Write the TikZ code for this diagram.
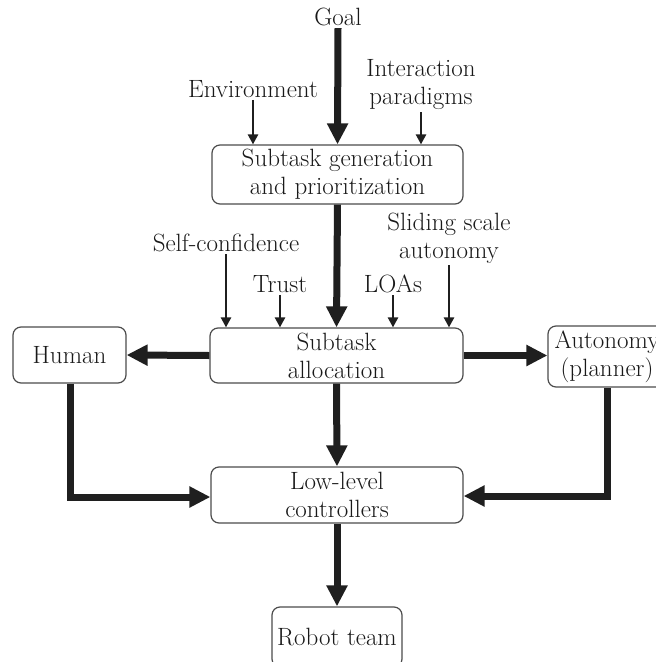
\documentclass[tikz,border=0pt]{standalone}
\usetikzlibrary{arrows.meta}
\begin{document}
\begin{tikzpicture}[x=1pt,y=-1pt,
  every node/.style={font=\fontsize{25}{28}\selectfont, align=center, text=black!90},
  box/.style={draw=black!70, line width=1.2pt, rounded corners=8pt, inner sep=0pt},
  lbl/.style={inner sep=2pt},
  thickarr/.style={line width=7pt, -{Triangle[length=21pt,width=20pt]}, black!88},
  thinarr/.style={line width=2.4pt, -{Triangle[length=10pt,width=10pt]}, black!88}]
\useasboundingbox (0,0) rectangle (656,662);
% boxes
\node[box, minimum width=251pt, minimum height=59pt] (gen) at (337.5,174.5) {Subtask generation\\and prioritization};
\node[box, minimum width=253pt, minimum height=55pt] (alloc) at (336.5,355.5) {Subtask\\allocation};
\node[box, minimum width=113pt, minimum height=56pt] (human) at (69.5,355) {Human};
\node[box, minimum width=118pt, minimum height=61pt] (auto) at (607,356.5) {Autonomy\\(planner)};
\node[box, minimum width=252pt, minimum height=56pt] (low) at (337,495) {Low-level\\controllers};
\node[box, minimum width=130pt, minimum height=60pt] (robot) at (337,637) {Robot team};
% labels
\node[lbl] (goal) at (338,17) {Goal};
\node[lbl] (env) at (253,89) {Environment};
\node[lbl] (inter) at (421,85) {Interaction\\paradigms};
\node[lbl] (self) at (226,243) {Self-confidence};
\node[lbl] (trust) at (280,284) {Trust};
\node[lbl] (loas) at (393,284) {LOAs};
\node[lbl] (slide) at (449,238) {Sliding scale\\autonomy};
% coordinates for bends
\coordinate (hb) at (70,497);
\coordinate (ab) at (607,496);
% connectors
\draw[thickarr] (goal.south) -- (gen.north);
\draw[thinarr] (env.south) -- (env.south |- gen.north);
\draw[thinarr] (inter.south) -- (inter.south |- gen.north);
\draw[thickarr] (gen.south) -- (alloc.north);
\draw[thinarr] (self.south) -- (self.south |- alloc.north);
\draw[thinarr] (trust.south) -- (trust.south |- alloc.north);
\draw[thinarr] (loas.south) -- (loas.south |- alloc.north);
\draw[thinarr] (slide.south) -- (slide.south |- alloc.north);
\draw[thickarr] (alloc.west) -- (human.east);
\draw[thickarr] (alloc.east) -- (alloc.east -| auto.west);
\draw[thickarr] (alloc.south) -- (low.north);
\draw[thickarr, line join=miter] (human.south -| hb) -- (hb) -- (low.west |- hb);
\draw[thickarr, line join=miter] (auto.south -| ab) -- (ab) -- (low.east |- ab);
\draw[thickarr] (low.south) -- (robot.north);
\end{tikzpicture}
\end{document}
